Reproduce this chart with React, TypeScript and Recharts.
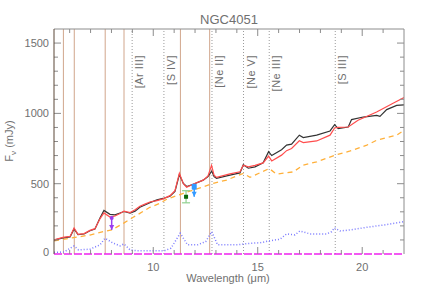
import {
  ComposedChart,
  Line,
  Scatter,
  XAxis,
  YAxis,
  ReferenceLine,
} from 'recharts';

// observed spectrum (black)
const obsWave = [5.25, 5.68, 6.02, 6.21, 6.4, 6.69, 6.97, 7.21, 7.45, 7.64, 7.93, 8.17, 8.41, 8.6, 8.89, 9.13, 9.36, 9.6, 9.84, 10.18, 10.47, 10.8, 11.04, 11.25, 11.44, 11.6, 11.92, 12.39, 12.62, 12.8, 12.91, 13.03, 13.67, 14.15, 14.31, 14.55, 14.87, 15.26, 15.52, 15.67, 16.14, 16.38, 16.62, 16.99, 17.18, 17.82, 18.46, 18.68, 18.85, 19.33, 19.49, 20.05, 20.69, 20.85, 21.17, 21.65, 22.0];
const obsFlux = [98, 115, 122, 178, 138, 142, 165, 178, 256, 310, 282, 278, 292, 302, 290, 305, 332, 348, 365, 385, 395, 410, 445, 565, 502, 480, 496, 525, 550, 590, 550, 538, 561, 577, 635, 610, 620, 648, 728, 700, 742, 774, 781, 845, 828, 845, 875, 920, 892, 903, 956, 974, 986, 979, 1027, 1057, 1060];

// fitted model (red)
const modelWave = [5.25, 5.68, 6.02, 6.21, 6.4, 6.69, 6.97, 7.21, 7.45, 7.64, 7.93, 8.17, 8.41, 8.6, 8.89, 9.13, 9.36, 9.6, 9.84, 10.18, 10.47, 10.8, 11.04, 11.25, 11.44, 11.6, 11.92, 12.39, 12.62, 12.79, 12.91, 13.03, 13.67, 14.15, 14.31, 14.55, 14.87, 15.26, 15.52, 15.67, 16.14, 16.38, 16.62, 16.99, 17.18, 17.82, 18.46, 18.68, 18.85, 19.33, 19.8, 20.69, 21.5, 22.0];
const modelFlux = [100, 118, 125, 185, 140, 145, 168, 180, 250, 292, 263, 270, 288, 305, 295, 315, 340, 355, 370, 380, 392, 415, 450, 575, 500, 475, 498, 525, 555, 630, 560, 545, 570, 585, 632, 620, 630, 648, 696, 662, 703, 735, 750, 805, 792, 804, 845, 896, 900, 903, 951, 1010, 1074, 1112];

// continuum (orange dashed)
const contWave = [5.25, 6.02, 6.97, 7.61, 8.01, 8.57, 9.04, 9.84, 10.32, 10.64, 11.44, 12.39, 12.87, 13.51, 14.31, 14.63, 15.55, 15.9, 16.7, 17.18, 17.82, 18.71, 19.43, 20.22, 20.69, 21.65, 22.0];
const contFlux = [93, 112, 135, 159, 171, 218, 261, 332, 360, 389, 431, 478, 502, 526, 573, 545, 608, 568, 584, 632, 655, 703, 733, 774, 809, 845, 880];

// PAH / residual component (blue dotted)
const pahWave = [5.25, 5.73, 6.21, 6.42, 6.97, 7.45, 7.69, 8.09, 8.41, 8.6, 8.89, 9.21, 10.36, 10.51, 10.85, 11.29, 11.64, 12.12, 12.51, 12.8, 13.08, 14.03, 14.35, 15.15, 15.55, 16.06, 16.38, 16.78, 17.02, 17.5, 18.3, 18.54, 18.67, 18.94, 19.43, 20.22, 21.02, 22.0];
const pahFlux = [12, 14, 58, 29, 34, 65, 112, 77, 58, 72, 29, 24, 24, 22, 41, 148, 65, 65, 88, 159, 65, 65, 72, 81, 93, 105, 143, 136, 164, 143, 143, 159, 187, 164, 171, 190, 206, 230];

// PAH feature positions (solid tan lines)
const pahLines = [5.7, 6.22, 7.7, 8.6, 11.3, 12.7];
// fine-structure lines (dotted)
const ionLines = [8.99, 10.51, 12.81, 14.32, 15.55, 18.71];
const ionNames = ['[Ar III]', '[S IV]', '[Ne II]', '[Ne V]', '[Ne III]', '[S III]'];

// upper limits
const limitWave = [8.01, 11.96];
const limitTop = [256, 478];
const limitTip = [171, 407];
const limitColor = ['#9b3cf0', '#3399ff'];

// photometric point with error
const photWave = [11.57];
const photFlux = [407];
const photErr = [43];

const xTicks = [6, 7, 8, 9, 10, 11, 12, 13, 14, 15, 16, 17, 18, 19, 20, 21];
const yTicks = [0, 100, 200, 300, 400, 500, 600, 700, 800, 900, 1000, 1100, 1200, 1300, 1400, 1500];

const PLOT = { left: 54, right: 404, top: 29, bottom: 254 };
const AXIS = '#8c8c8c';
const TEXT = '#707070';
const FONT = '"Liberation Sans", Arial, sans-serif';

const zip = (xs: number[], ys: number[]) => xs.map((x, i) => ({ x, y: ys[i] }));

const obsData = zip(obsWave, obsFlux);
const modelData = zip(modelWave, modelFlux);
const contData = zip(contWave, contFlux);
const pahData = zip(pahWave, pahFlux);
const photData = zip(photWave, photFlux);

const XTick = (props: any) => {
  const { x, payload } = props;
  const v = payload.value;
  const major = v % 5 === 0;
  const len = major ? 7 : 4;
  return (
    <g>
      <line x1={x} x2={x} y1={PLOT.bottom} y2={PLOT.bottom - len} stroke={AXIS} />
      <line x1={x} x2={x} y1={PLOT.top} y2={PLOT.top + len} stroke={AXIS} />
      {major && (
        <text x={x} y={PLOT.bottom + 17} textAnchor="middle" fontSize={11} fill={TEXT} stroke="none" fontFamily={FONT}>
          {v}
        </text>
      )}
    </g>
  );
};

const YTick = (props: any) => {
  const { y, payload } = props;
  const v = payload.value;
  const major = v % 500 === 0;
  const len = major ? 7 : 4;
  return (
    <g>
      {v > 0 && <line x1={PLOT.left} x2={PLOT.left + len} y1={y} y2={y} stroke={AXIS} />}
      {v > 0 && <line x1={PLOT.right} x2={PLOT.right - len} y1={y} y2={y} stroke={AXIS} />}
      {major && (
        <text x={PLOT.left - 5} y={v === 0 ? y + 2 : y + 4} textAnchor="end" fontSize={11} fill={TEXT} stroke="none" fontFamily={FONT}>
          {v}
        </text>
      )}
    </g>
  );
};

const IonLabel = (props: any) => {
  const { viewBox, text } = props;
  const x = viewBox.x + 7;
  const y = PLOT.top + 26;
  return (
    <text
      x={x}
      y={y}
      transform={`rotate(-90 ${x} ${y})`}
      textAnchor="end"
      dominantBaseline="central"
      fontSize={11}
      letterSpacing={0.5}
      fill={TEXT}
      fontFamily={FONT}
    >
      {text}
    </text>
  );
};

const LimitDot = (color: string) => (props: any) => {
  const { cx, cy, index } = props;
  if (cx == null || cy == null) return <g key={index} />;
  if (index === 0) {
    return <polygon key={index} points={`${cx - 2.5},${cy - 5} ${cx + 2.5},${cy - 5} ${cx},${cy}`} fill={color} />;
  }
  return color === '#3399ff' ? (
    <rect key={index} x={cx - 2.5} y={cy - 3} width={5} height={6} rx={1} fill={color} />
  ) : (
    <circle key={index} cx={cx} cy={cy} r={2} fill={color} />
  );
};

const ErrCap = (props: any) => {
  const { cx, cy, index } = props;
  if (cx == null || cy == null) return <g key={index} />;
  return <line key={index} x1={cx - 4} x2={cx + 4} y1={cy} y2={cy} stroke="#8fd08f" strokeWidth={1.2} />;
};

const PhotShape = (props: any) => {
  const { cx, cy } = props;
  return <rect x={cx - 2} y={cy - 2} width={4} height={4} fill="#0a6a0a" />;
};

export default function App() {
  return (
    <div style={{ position: 'relative', width: 436, height: 291 }}>
      <style>{`body{margin:0}`}</style>
      <ComposedChart
        width={436}
        height={291}
        margin={{ top: PLOT.top, right: 436 - PLOT.right, bottom: 291 - PLOT.bottom - 1, left: PLOT.left - 1 }}
      >
        <XAxis
          dataKey="x"
          type="number"
          domain={[5.25, 22]}
          ticks={xTicks}
          interval={0}
          height={1}
          tickLine={false}
          tickSize={0}
          tickMargin={0}
          tick={XTick}
          axisLine={false}
          allowDataOverflow
        />
        <YAxis
          type="number"
          domain={[0, 1600]}
          ticks={yTicks}
          interval={0}
          width={1}
          tickLine={false}
          tickSize={0}
          tickMargin={0}
          tick={YTick}
          axisLine={false}
          allowDataOverflow
        />
        {pahLines.map((w) => (
          <ReferenceLine key={'p' + w} x={w} stroke="#d1a68c" strokeWidth={1} />
        ))}
        {ionLines.map((w, i) => (
          <ReferenceLine
            key={'i' + w}
            x={w}
            stroke="#9a9a9a"
            strokeDasharray="1 2"
            label={<IonLabel text={ionNames[i]} />}
          />
        ))}
        <Line data={pahData} dataKey="y" stroke="#7b7bff" strokeWidth={1.5} strokeDasharray="1 2" dot={false} isAnimationActive={false} />
        <Line data={contData} dataKey="y" stroke="#ffb03a" strokeWidth={1.3} strokeDasharray="5 4" dot={false} isAnimationActive={false} />
        <Line data={obsData} dataKey="y" stroke="#333333" strokeWidth={1.2} dot={false} isAnimationActive={false} />
        <Line data={modelData} dataKey="y" stroke="#ff4d4d" strokeWidth={1.2} dot={false} isAnimationActive={false} />
        {limitWave.map((w, i) => (
          <Line
            key={'l' + w}
            data={[{ x: w, y: limitTip[i] }, { x: w, y: limitTop[i] }]}
            dataKey="y"
            stroke={limitColor[i]}
            strokeWidth={1.5}
            dot={LimitDot(limitColor[i])}
            isAnimationActive={false}
          />
        ))}
        {photWave.map((w, i) => (
          <Line
            key={'e' + w}
            data={[{ x: w, y: photFlux[i] - photErr[i] }, { x: w, y: photFlux[i] + photErr[i] }]}
            dataKey="y"
            stroke="#8fd08f"
            strokeWidth={1.2}
            dot={ErrCap}
            isAnimationActive={false}
          />
        ))}
        <Scatter data={photData} dataKey="y" shape={PhotShape} isAnimationActive={false} />
        <ReferenceLine y={0} stroke="#ee22ee" strokeWidth={1.6} strokeDasharray="8 2" />
      </ComposedChart>
      <svg width={436} height={291} style={{ position: 'absolute', left: 0, top: 0, pointerEvents: 'none' }}>
        <line x1={PLOT.left} x2={PLOT.right} y1={PLOT.top} y2={PLOT.top} stroke={AXIS} />
        <line x1={PLOT.right} x2={PLOT.right} y1={PLOT.top} y2={PLOT.bottom} stroke={AXIS} />
        <line x1={PLOT.left} x2={PLOT.left} y1={PLOT.top} y2={PLOT.bottom} stroke="#5b4636" />
        <text x={229} y={24} textAnchor="middle" fontSize={13} fill={TEXT} fontFamily={FONT}>
          NGC4051
        </text>
        <text x={228} y={282} textAnchor="middle" fontSize={11} fill={TEXT} fontFamily={FONT}>
          Wavelength (μm)
        </text>
        <text x={13} y={141} transform="rotate(-90 13 141)" textAnchor="middle" fontSize={11} fill={TEXT} fontFamily={FONT}>
          F<tspan dy={3} fontSize={8}>ν</tspan>
          <tspan dy={-3}> (mJy)</tspan>
        </text>
      </svg>
    </div>
  );
}
